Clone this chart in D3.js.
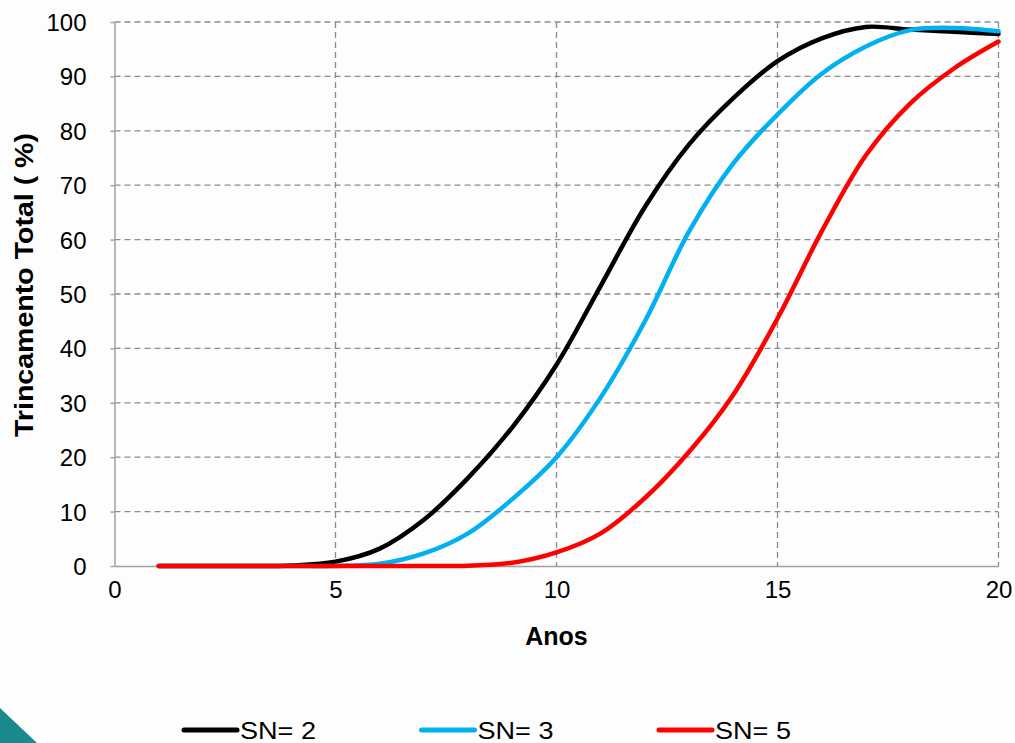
<!DOCTYPE html>
<html lang="pt">
<head>
<meta charset="utf-8">
<title>Trincamento Total</title>
<script src="https://d3js.org/d3.v7.min.js"></script>
<style>
  body { margin: 0; background: #fdfdfd; }
  svg { display: block; font-family: "Liberation Sans", Arial, sans-serif; }
  .grid line { stroke: #8c8c8c; stroke-width: 1.3; stroke-dasharray: 6,4; }
  .axis path, .axis line { stroke: #a0a0a0; stroke-width: 1.5; }
</style>
</head>
<body>
<svg width="1015" height="743"></svg>
<script>
// dados
var anos = d3.range(1, 21);
var sn2 = [0, 0, 0, 0.1, 0.8, 3.2, 8.5, 16.2, 25.5, 37, 51.5, 66, 77.5, 86, 92.8, 97, 99.1, 98.6, 98.2, 97.8];
var sn3 = [0, 0, 0, 0, 0, 0.4, 2.3, 6, 12.3, 20, 31, 45, 61.5, 74, 83, 90.5, 95.5, 98.5, 98.9, 98.3];
var sn5 = [0, 0, 0, 0, 0, 0, 0, 0.05, 0.6, 2.5, 6, 12.5, 21, 31.5, 45.5, 61.5, 75.5, 85, 91.5, 96.4];
var series = [
  { nome: "SN= 2", valores: sn2, cor: "#000000" },
  { nome: "SN= 3", valores: sn3, cor: "#00b0f0" },
  { nome: "SN= 5", valores: sn5, cor: "#ff0000" }
];
var xTicks = [0, 5, 10, 15, 20];
var yTicks = d3.range(0, 101, 10);

var svg = d3.select("svg");
var m = { left: 114.5, right: 998.5, top: 22, bottom: 566 };

var x = d3.scaleLinear().domain([0, 20]).range([m.left, m.right]);
var y = d3.scaleLinear().domain([0, 100]).range([m.bottom, m.top]);

// triangulo decorativo
svg.append("path")
  .attr("d", "M0,708 L37,743 L0,743 Z")
  .attr("fill", "#1a8a8e");

// grade
var grid = svg.append("g").attr("class", "grid");
grid.selectAll(".h").data(yTicks.filter(function(d) { return d > 0; }))
  .enter().append("line")
    .attr("x1", m.left).attr("x2", m.right)
    .attr("y1", function(d) { return y(d); }).attr("y2", function(d) { return y(d); });
grid.selectAll(".v").data(xTicks.filter(function(d) { return d > 0; }))
  .enter().append("line")
    .attr("y1", m.top).attr("y2", m.bottom)
    .attr("x1", function(d) { return x(d); }).attr("x2", function(d) { return x(d); });

// eixos
svg.append("g").attr("class", "axis")
  .attr("transform", "translate(0," + m.bottom + ")")
  .call(d3.axisBottom(x).tickValues(xTicks).tickSize(0).tickPadding(24).tickSizeOuter(0))
  .call(function(g) {
    g.selectAll("text").attr("dy", "0.35em")
      .attr("font-family", null).attr("fill", "#000")
      .style("font-size", "24px");
  });

svg.append("g").attr("class", "axis")
  .attr("transform", "translate(" + m.left + ",0)")
  .call(d3.axisLeft(y).tickValues(yTicks).tickSize(4).tickPadding(24).tickSizeOuter(0))
  .call(function(g) {
    g.selectAll("text").attr("dy", "0.35em")
      .attr("font-family", null).attr("fill", "#000")
      .style("font-size", "24px");
  });
svg.selectAll(".axis").attr("font-family", null);

// titulos
svg.append("text")
  .attr("x", x(10)).attr("y", 645)
  .attr("text-anchor", "middle")
  .style("font-size", "25px").style("font-weight", "bold")
  .text("Anos");

svg.append("text")
  .attr("transform", "translate(33,285) rotate(-90)")
  .attr("text-anchor", "middle")
  .attr("textLength", 304)
  .attr("lengthAdjust", "spacingAndGlyphs")
  .style("font-size", "25px").style("font-weight", "bold")
  .text("Trincamento Total ( %)");

// linhas
var line = d3.line()
  .x(function(d, i) { return x(anos[i]); })
  .y(function(d) { return y(d); })
  .curve(d3.curveCatmullRom.alpha(0.5));

svg.append("g").selectAll("path")
  .data(series)
  .enter().append("path")
    .attr("fill", "none")
    .attr("stroke", function(d) { return d.cor; })
    .attr("stroke-width", 4.5)
    .attr("stroke-linecap", "round")
    .attr("stroke-linejoin", "round")
    .attr("d", function(d) { return line(d.valores); });

// legenda
var leg = svg.append("g").selectAll("g")
  .data(series)
  .enter().append("g")
    .attr("transform", function(d, i) { return "translate(" + (184 + i * 237.5) + ",730)"; });
leg.append("line")
  .attr("x1", 0).attr("x2", 53)
  .attr("stroke", function(d) { return d.cor; })
  .attr("stroke-width", 5)
  .attr("stroke-linecap", "round");
leg.append("text")
  .attr("x", 56).attr("dy", "0.36em")
  .attr("textLength", 76)
  .attr("lengthAdjust", "spacingAndGlyphs")
  .style("font-size", "24px")
  .text(function(d) { return d.nome; });
</script>
</body>
</html>
